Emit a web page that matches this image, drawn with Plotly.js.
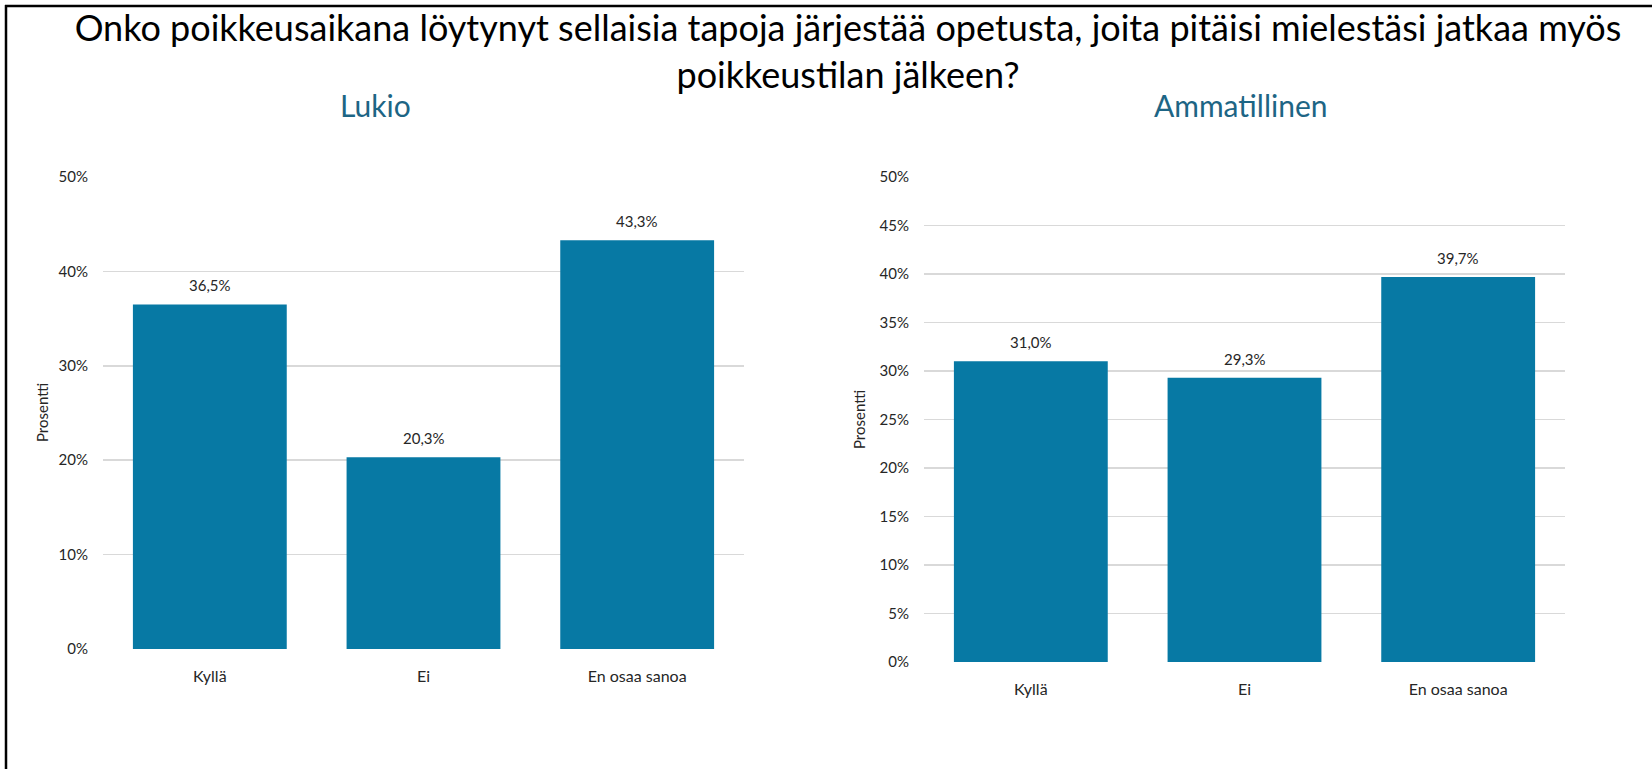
<!DOCTYPE html>
<html>
<head>
<meta charset="utf-8">
<script src="https://cdn.plot.ly/plotly-3.0.1.min.js"></script>
<style>
html,body{margin:0;padding:0;background:#fff;}
#chart{width:1652px;height:769px;}
</style>
</head>
<body>
<div id="chart"></div>
<script>
// ---- data ----
const categories = ["Kyllä", "Ei", "En osaa sanoa"];
const lukioValues = [36.5, 20.3, 43.3];
const ammatillinenValues = [31.0, 29.3, 39.7];
const panelTitles = ["Lukio", "Ammatillinen"];
const mainTitle = "Onko poikkeusaikana löytynyt sellaisia tapoja järjestää opetusta, joita pitäisi mielestäsi jatkaa myös<br>poikkeustilan jälkeen?";
const yTitle = "Prosentti";

// ---- styling ----
const W = 1652, H = 769;
const barColor = "#0779a4";
const gridColor = "#d9d9d9";
const textColor = "#262626";
const panelTitleColor = "#1d6585";
const baseFont = "Lato, 'Noto Sans', sans-serif";
const titleFont = "'Liberation Sans Narrow', Lato, sans-serif";

function fmt(v){ return v.toFixed(1).replace('.', ',') + '%'; }
const px = v => v / W;
const py = v => 1 - v / H;

const traces = [
  {type:'bar', x:categories, y:lukioValues, xaxis:'x', yaxis:'y',
   marker:{color:barColor}, hoverinfo:'skip', showlegend:false},
  {type:'bar', x:categories, y:ammatillinenValues, xaxis:'x2', yaxis:'y2',
   marker:{color:barColor}, hoverinfo:'skip', showlegend:false}
];

const yCommon = {
  range:[0,50], ticksuffix:'%', showline:false, zeroline:false,
  gridcolor:gridColor, gridwidth:1.5, fixedrange:true,
  tickfont:{family:baseFont, size:15, color:textColor},
  ticks:'', ticklabelstandoff:14
};
const xCommon = {
  showline:false, zeroline:false, showgrid:false, fixedrange:true,
  tickfont:{family:baseFont, size:16, color:textColor},
  ticks:'', ticklabelstandoff:16
};

const annotations = [];
function dataLabels(vals, xa, ya){
  vals.forEach((v,i)=>{
    annotations.push({x:categories[i], y:v, xref:xa, yref:ya, text:fmt(v),
      showarrow:false, yanchor:'bottom', yshift:8,
      font:{family:baseFont, size:15, color:textColor}});
  });
}
dataLabels(lukioValues, 'x', 'y');
dataLabels(ammatillinenValues, 'x2', 'y2');

annotations.push({x:px(375), y:py(105), xref:'paper', yref:'paper', text:panelTitles[0],
  showarrow:false, xanchor:'center', yanchor:'middle',
  font:{family:baseFont, size:30, color:panelTitleColor}});
annotations.push({x:px(1240), y:py(105), xref:'paper', yref:'paper', text:panelTitles[1],
  showarrow:false, xanchor:'center', yanchor:'middle',
  font:{family:baseFont, size:30, color:panelTitleColor}});

annotations.push({x:px(42), y:py(413), xref:'paper', yref:'paper', text:yTitle, textangle:-90,
  showarrow:false, xanchor:'center', yanchor:'middle',
  font:{family:baseFont, size:15, color:textColor}});
annotations.push({x:px(859), y:py(420), xref:'paper', yref:'paper', text:yTitle, textangle:-90,
  showarrow:false, xanchor:'center', yanchor:'middle',
  font:{family:baseFont, size:15, color:textColor}});

const layout = {
  width:W, height:H,
  margin:{l:0,r:0,t:0,b:0},
  paper_bgcolor:'#ffffff', plot_bgcolor:'#ffffff',
  bargap:0.28,
  title:{text:mainTitle, x:px(848), xanchor:'center', xref:'paper',
         y:1 - 41/H, yref:'container', yanchor:'top',
         font:{family:titleFont, size:36, color:'#000000'}},
  xaxis:Object.assign({domain:[px(103), px(744)], anchor:'y'}, xCommon),
  yaxis:Object.assign({domain:[py(649), py(177)], anchor:'x', dtick:10}, yCommon),
  xaxis2:Object.assign({domain:[px(924), px(1565)], anchor:'y2'}, xCommon),
  yaxis2:Object.assign({domain:[py(662), py(177)], anchor:'x2', dtick:5}, yCommon),
  annotations:annotations,
  shapes:[
    {type:'line', xref:'paper', yref:'paper', x0:px(6), x1:px(6), y0:-0.01, y1:py(5),
     line:{color:'#000', width:2.5}},
    {type:'line', xref:'paper', yref:'paper', x0:px(5), x1:1.01, y0:py(6), y1:py(6),
     line:{color:'#000', width:2.5}}
  ]
};

Plotly.newPlot('chart', traces, layout, {displayModeBar:false, staticPlot:true});
</script>
</body>
</html>
